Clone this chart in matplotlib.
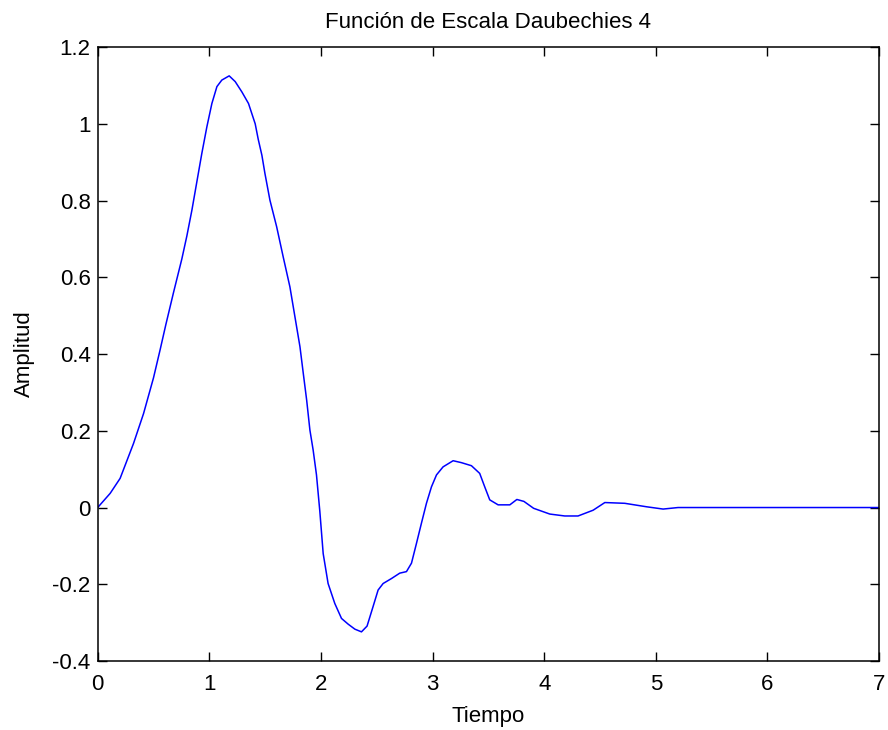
import matplotlib
matplotlib.use('Agg')
import matplotlib.pyplot as plt

plt.rcParams['font.family'] = ['Liberation Sans', 'DejaVu Sans']

# Daubechies 4 scaling function, sampled along its support [0, 7]
tiempo = [0.000, 0.112, 0.201, 0.321, 0.411, 0.500, 0.560, 0.610, 0.679, 0.754,
          0.799, 0.844, 0.889, 0.933, 0.978, 1.023, 1.068, 1.112, 1.178, 1.232,
          1.292, 1.351, 1.411, 1.438, 1.471, 1.498, 1.543, 1.603, 1.662, 1.722,
          1.767, 1.812, 1.842, 1.872, 1.901, 1.930, 1.960, 1.990, 2.020, 2.064,
          2.124, 2.184, 2.244, 2.304, 2.363, 2.413, 2.467, 2.512, 2.557, 2.632,
          2.706, 2.766, 2.811, 2.856, 2.900, 2.945, 2.990, 3.035, 3.094, 3.184,
          3.258, 3.348, 3.422, 3.467, 3.512, 3.587, 3.692, 3.755, 3.818, 3.905,
          4.050, 4.184, 4.303, 4.438, 4.543, 4.722, 4.916, 5.065, 5.199, 7.000]
amplitud = [0.000, 0.037, 0.076, 0.167, 0.245, 0.338, 0.412, 0.476, 0.560, 0.648,
            0.708, 0.775, 0.850, 0.923, 0.992, 1.053, 1.097, 1.114, 1.125, 1.110,
            1.083, 1.053, 1.000, 0.960, 0.918, 0.871, 0.801, 0.732, 0.653, 0.575,
            0.497, 0.419, 0.349, 0.280, 0.202, 0.150, 0.085, -0.010, -0.120, -0.198,
            -0.250, -0.289, -0.304, -0.317, -0.324, -0.309, -0.258, -0.215, -0.198, -0.185,
            -0.171, -0.167, -0.145, -0.093, -0.041, 0.011, 0.054, 0.085, 0.106, 0.122,
            0.117, 0.109, 0.089, 0.054, 0.020, 0.007, 0.007, 0.021, 0.016, -0.002,
            -0.017, -0.022, -0.022, -0.007, 0.013, 0.011, 0.002, -0.004, 0.000, 0.000]

xticks = [0, 1, 2, 3, 4, 5, 6, 7]
yticks = [-0.4, -0.2, 0, 0.2, 0.4, 0.6, 0.8, 1, 1.2]
yticklabels = ['-0.4', '-0.2', '0', '0.2', '0.4', '0.6', '0.8', '1', '1.2']

fig = plt.figure(figsize=(8.88, 7.30), dpi=100)
ax = fig.add_axes([0.110, 0.0945, 0.880, 0.841])

ax.plot(tiempo, amplitud, color='#0000ff', linewidth=1.1)

ax.set_xlim(0, 7)
ax.set_ylim(-0.4, 1.2)
ax.set_xticks(xticks)
ax.set_yticks(yticks)
ax.set_yticklabels(yticklabels)
ax.tick_params(direction='in', length=6.5, width=1.0, labelsize=16,
               top=True, right=True, colors='black')
ax.tick_params(axis='x', pad=9)
ax.tick_params(axis='y', pad=5)
for s in ax.spines.values():
    s.set_linewidth(1.1)

ax.set_title('Función de Escala Daubechies 4', fontsize=16, pad=14)
ax.set_xlabel('Tiempo', fontsize=16, labelpad=8.5)
ax.set_ylabel('Amplitud', fontsize=16, labelpad=12.5)

fig.savefig('out.png', dpi=100)
